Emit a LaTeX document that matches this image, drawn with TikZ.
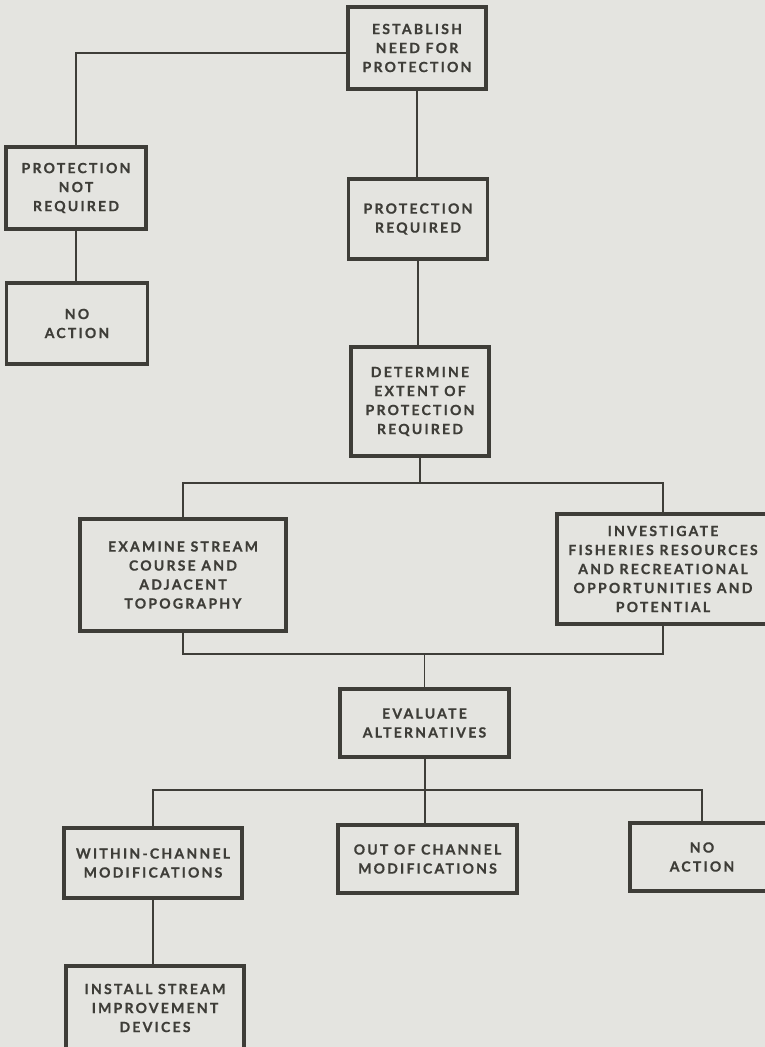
\documentclass[tikz,border=0pt]{standalone}
\usepackage{fontspec}
\setmainfont{Lato}[LetterSpace=16, BoldFeatures={FakeBold=0.8}]
\definecolor{paper}{RGB}{228,228,224}
\definecolor{ink}{RGB}{62,61,56}
\begin{document}
\begin{tikzpicture}[x=1pt,y=-1pt,
  box/.style={draw=ink, line width=3.2pt, fill=paper, align=center, inner sep=0pt,
    font=\fontsize{14}{19}\selectfont\bfseries, text=ink},
  link/.style={draw=ink, line width=1.6pt}]
\fill[paper] (0,0) rectangle (765,1047);
\useasboundingbox (0,0) rectangle (765,1047);
\begin{scope}
\clip (0,0) rectangle (765,1047);
% boxes
\node[box, minimum width=138pt, minimum height=82pt] (est) at (417,48) {ESTABLISH\\NEED FOR\\PROTECTION};
\node[box, minimum width=140pt, minimum height=82pt] (pnr) at (76,188) {PROTECTION\\NOT\\REQUIRED};
\node[box, minimum width=141pt, minimum height=81pt] (na1) at (77,323.5) {NO\\ACTION};
\node[box, minimum width=139pt, minimum height=80pt] (pr) at (418,219) {PROTECTION\\REQUIRED};
\node[box, minimum width=138pt, minimum height=109pt] (det) at (420,401.5) {DETERMINE\\EXTENT OF\\PROTECTION\\REQUIRED};
\node[box, minimum width=206pt, minimum height=112pt] (exa) at (183,575) {EXAMINE STREAM\\COURSE AND\\ADJACENT\\TOPOGRAPHY};
\node[box, minimum width=212pt, minimum height=110pt] (inv) at (663,569) {INVESTIGATE\\FISHERIES RESOURCES\\AND RECREATIONAL\\OPPORTUNITIES AND\\POTENTIAL};
\node[box, minimum width=169pt, minimum height=68pt] (eva) at (424.5,723) {EVALUATE\\ALTERNATIVES};
\node[box, minimum width=178pt, minimum height=70pt] (wit) at (153,863) {WITHIN-CHANNEL\\MODIFICATIONS};
\node[box, minimum width=179pt, minimum height=68pt] (out) at (427.5,859) {OUT OF CHANNEL\\MODIFICATIONS};
\node[box, minimum width=144pt, minimum height=68pt] (na2) at (702,857) {NO\\ACTION};
\node[box, minimum width=178pt, minimum height=84pt] (ins) at (155,1008) {INSTALL STREAM\\IMPROVEMENT\\DEVICES};
% junctions
\coordinate (j1) at (420,483);
\coordinate (j2) at (424.5,654);
\coordinate (j3) at (425,790);
% connectors
\draw[link] ([yshift=-5pt]est.west) -| (pnr.north);
\draw[link] (pnr.south) -- (pnr.south |- na1.north);
\draw[link] (est.south) -- (est.south |- pr.north);
\draw[link] (pr.south) -- (pr.south |- det.north);
\draw[link] (det.south) -- (j1);
\draw[link] (exa.north) |- (j1) -| (inv.north);
\draw[link] (exa.south) |- (j2) -| (inv.south);
\draw[link] (j2) -- (eva.north);
\draw[link] (j3 |- eva.south) -- (j3 |- out.north);
\draw[link] (wit.north) |- (j3) -| (na2.north);
\draw[link] (wit.south) -- (wit.south |- ins.north);
\end{scope}
\end{tikzpicture}
\end{document}
